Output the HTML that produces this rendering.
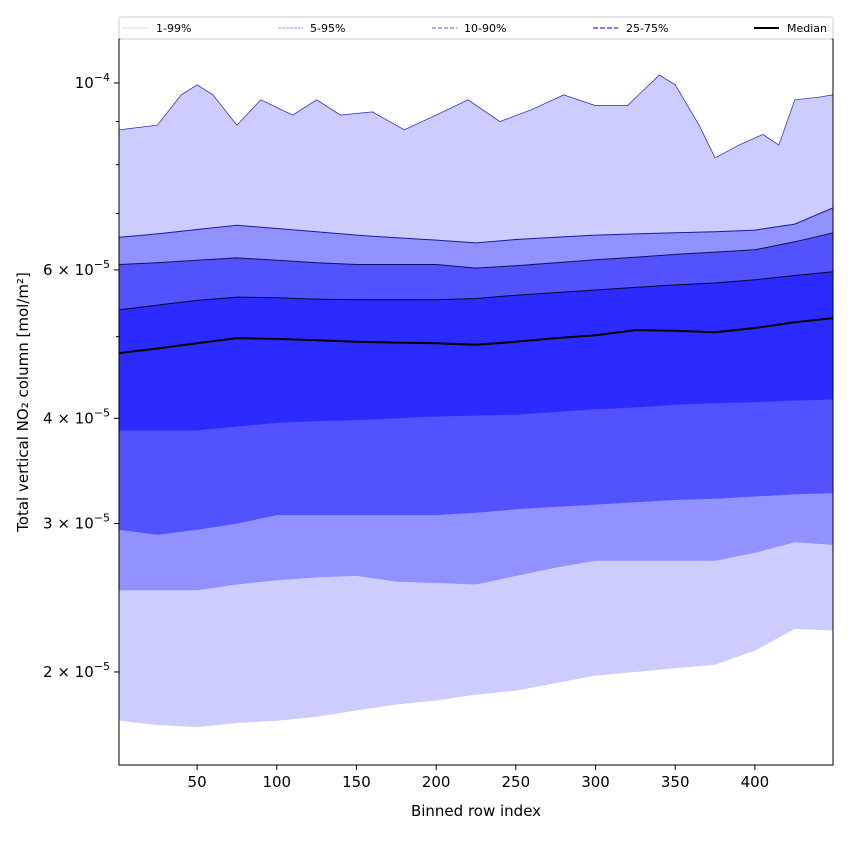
<!DOCTYPE html>
<html><head><meta charset="utf-8">
<style>
html,body{margin:0;padding:0;background:#fff;}
svg{display:block;font-family:"DejaVu Sans","Liberation Sans",sans-serif;}
</style></head>
<body>
<svg id="chart" width="850" height="850" viewBox="0 0 850 850"></svg>
<script>
// Data (values in units of 1e-5 mol/m²)
const rowIdx = [1,25,50,75,100,125,150,175,200,225,250,275,300,325,350,375,400,425,449];
const p95 = [6.56,6.62,6.70,6.78,6.72,6.66,6.60,6.55,6.51,6.46,6.52,6.56,6.60,6.62,6.64,6.66,6.69,6.80,7.11];
const p90 = [6.09,6.12,6.16,6.20,6.16,6.12,6.09,6.09,6.09,6.03,6.07,6.12,6.17,6.21,6.26,6.30,6.34,6.48,6.64];
const p75 = [5.38,5.45,5.52,5.57,5.56,5.54,5.53,5.53,5.53,5.55,5.60,5.64,5.68,5.72,5.76,5.79,5.84,5.91,5.97];
const median = [4.78,4.84,4.91,4.98,4.97,4.95,4.93,4.92,4.91,4.89,4.93,4.98,5.02,5.09,5.08,5.06,5.12,5.20,5.26];
const p25 = [3.87,3.87,3.87,3.91,3.95,3.97,3.98,4.00,4.02,4.03,4.04,4.07,4.10,4.12,4.15,4.17,4.18,4.20,4.21];
const p10 = [2.95,2.91,2.95,3.00,3.07,3.07,3.07,3.07,3.07,3.09,3.12,3.14,3.16,3.18,3.20,3.21,3.23,3.25,3.26];
const p5 = [2.50,2.50,2.50,2.54,2.57,2.59,2.60,2.56,2.55,2.54,2.60,2.66,2.71,2.71,2.71,2.71,2.77,2.85,2.83];
const p1 = [1.75,1.73,1.72,1.74,1.75,1.77,1.80,1.83,1.85,1.88,1.90,1.94,1.98,2.00,2.02,2.04,2.12,2.25,2.24];
const p99Idx = [1,25,40,50,60,75,90,110,125,140,160,180,200,220,240,260,280,300,320,340,350,365,375,390,405,415,425,440,449];
const p99 = [8.80,8.91,9.68,9.95,9.68,8.91,9.55,9.16,9.55,9.16,9.24,8.80,9.16,9.55,9.00,9.30,9.68,9.40,9.40,10.22,9.95,8.91,8.15,8.44,8.69,8.44,9.55,9.62,9.68];
const xTicks = [50,100,150,200,250,300,350,400];
const yMajor = [10,6,4,3,2];
const yMajorLabels = ["10","6","4","3","2"];
const yMinor = [9,8,7,5];

const NS="http://www.w3.org/2000/svg";
const svg=document.getElementById('chart');
const L=119,R=833,T=39,B=765;
function xs(v){return L+(v-1)/(449-1)*(R-L);}
function ys(v){return 83+(1-Math.log10(v))*842.6;}
function mk(tag,attrs,parent){const e=document.createElementNS(NS,tag);for(const k in attrs)e.setAttribute(k,attrs[k]);(parent||svg).appendChild(e);return e;}

const clip=mk('clipPath',{id:'pc'});mk('rect',{x:L,y:T,width:R-L,height:B-T},clip);
const g=mk('g',{'clip-path':'url(#pc)'});



function linePts(X,V){return X.map((x,i)=>xs(x).toFixed(1)+','+ys(V[i]).toFixed(1));}
function band(Xt,top,Xb,bot,fill,name){
  const pts=linePts(Xt,top).concat(linePts(Xb,bot).reverse());
  const p=mk('polygon',{points:pts.join(' '),fill:fill,stroke:'none'},g);
  
  
}
band(p99Idx,p99,rowIdx,p1,'#ccccff','band-1-99');
band(rowIdx,p95,rowIdx,p5,'#9191ff','band-5-95');
band(rowIdx,p90,rowIdx,p10,'#5252ff','band-10-90');
band(rowIdx,p75,rowIdx,p25,'#2b2bff','band-25-75');
function line(X,V,stroke,w,name){
  const p=mk('polyline',{points:linePts(X,V).join(' '),fill:'none',stroke:stroke,'stroke-width':w},g);
  
  
}
line(p99Idx,p99,'#2222cc',0.7,'line-p99');
line(rowIdx,p95,'#1a1a99',1,'line-p95');
line(rowIdx,p90,'#101060',1,'line-p90');
line(rowIdx,p75,'#080830',1,'line-p75');
line(rowIdx,median,'#000',2,'line-median');

const fr=mk('rect',{x:L,y:T,width:R-L,height:B-T,fill:'none',stroke:'#000','stroke-width':1});



xTicks.forEach(v=>{
  const x=xs(v);
  mk('line',{x1:x,x2:x,y1:B,y2:B+5,stroke:'#000'});
  const t=mk('text',{x:x,y:B+22,'text-anchor':'middle','font-size':15});
  t.textContent=v;
  
  
});
yMajor.forEach((v,i)=>{
  const y=ys(v);
  mk('line',{x1:L-5,x2:L,y1:y,y2:y,stroke:'#000'});
  const t=mk('text',{x:L-9,y:y+5,'text-anchor':'end','font-size':15});
  if(v===10){t.innerHTML='10<tspan dy="-7" font-size="11">−4</tspan>';}
  else{t.innerHTML=yMajorLabels[i]+' × 10<tspan dy="-7" font-size="11">−5</tspan>';}
  
  
});
yMinor.forEach(v=>{const y=ys(v);mk('line',{x1:L-3,x2:L,y1:y,y2:y,stroke:'#000'});});

const xl=mk('text',{x:(L+R)/2,y:816,'text-anchor':'middle','font-size':15});
xl.textContent='Binned row index';


const yl=mk('text',{x:0,y:0,'text-anchor':'middle','font-size':15,transform:'translate(28,402) rotate(-90)'});
yl.textContent='Total vertical NO₂ column [mol/m²]';



const lg=mk('g',{});


mk('rect',{x:L,y:17,width:R-L,height:22,fill:'#fff',stroke:'#ccc','stroke-width':1,rx:2},lg);
const entries=[['1-99%','#ccccff',1,'3,1',123,156],['5-95%','#9999ff',1,'3,1',278,310],['10-90%','#7777ff',1.3,'4,2',432,464],['25-75%','#5555ff',1.6,'5,2',593,626],['Median','#000',2,'',754,787]];
entries.forEach(e=>{
  const eg=mk('g',{},lg);
  
  
  mk('line',{x1:e[4],x2:e[4]+25,y1:28,y2:28,stroke:e[1],'stroke-width':e[2],'stroke-dasharray':e[3]},eg);
  const t=mk('text',{x:e[5],y:32,'font-size':11},eg);t.textContent=e[0];
});
</script>
</body></html>
